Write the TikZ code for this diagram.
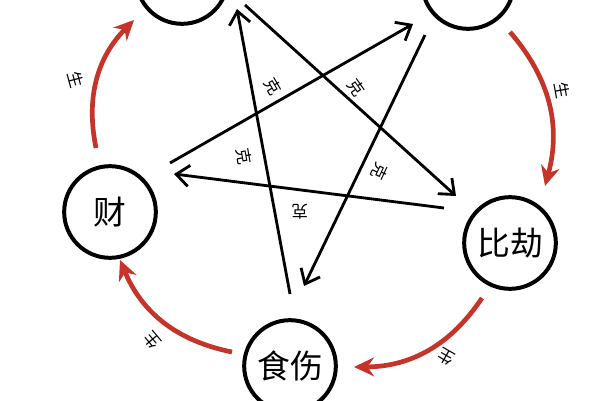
\documentclass[tikz,border=0pt]{standalone}
\usepackage{fontspec}
\setmainfont{Noto Sans CJK SC}
\usetikzlibrary{arrows.meta}
\definecolor{shengred}{RGB}{196,52,40}
\tikzset{
	elem/.style={draw=black,line width=3.4pt,circle,minimum size=2.75cm,inner sep=0pt,font=\fontsize{28}{28}\selectfont},
	ke/.style={draw=black,line width=2.4pt,-{Straight Barb[length=11pt,width=18pt,line width=2.4pt]}},
	sheng/.style={draw=shengred,line width=4pt,bend left=28,-{Stealth[length=17pt,width=16pt]}},
	kelab/.style={font=\fontsize{14}{14}\selectfont},
}
\begin{document}
\begin{tikzpicture}[x=0.03cm,y=-0.03cm]
		\useasboundingbox (0,0) rectangle (600,400);
		% five elements
		\node[elem] (tl) at (182,-22) {};
		\node[elem] (tr) at (468,-17) {};
		\node[elem] (cai) at (110,212) {财};
		\node[elem] (bj) at (510,243) {比劫};
		\node[elem] (ss) at (290,366) {食伤};
		% end points of the arrows
		\coordinate (k1a) at (170,163); \coordinate (k1b) at (413,24);
		\coordinate (k2a) at (245,5);   \coordinate (k2b) at (456,196);
		\coordinate (k3a) at (425,35);  \coordinate (k3b) at (304,286);
		\coordinate (k4a) at (444,208); \coordinate (k4b) at (174,174);
		\coordinate (k5a) at (290,294); \coordinate (k5b) at (237,9);
		\coordinate (s1a) at (96,148);  \coordinate (s1b) at (134,20);
		\coordinate (s2a) at (510,32);  \coordinate (s2b) at (545,186);
		\coordinate (s3a) at (482,298); \coordinate (s3b) at (354,367);
		\coordinate (s4a) at (232,352); \coordinate (s4b) at (120,260);
		% ke
		\draw[ke] (k1a) -- (k1b);
		\draw[ke] (k2a) -- (k2b);
		\draw[ke] (k3a) -- (k3b);
		\draw[ke] (k4a) -- (k4b);
		\draw[ke] (k5a) -- (k5b);
		\node[kelab,rotate=-60] (l1) at (273,86) {克};
		\node[kelab,rotate=-55] (l2) at (356,88) {克};
		\node[kelab,rotate=-115] (l3) at (380,172) {克};
		\node[kelab,rotate=180] (l4) at (300,212) {克};
		\node[kelab,rotate=-80] (l5) at (244,156) {克};
		% sheng
		\draw[sheng] (s1a) to (s1b);
		\draw[sheng] (s2a) to (s2b);
		\draw[sheng] (s3a) to (s3b);
		\draw[sheng] (s4a) to (s4b);
		\node[kelab,rotate=-75] (g1) at (76,80) {生};
		\node[kelab,rotate=-80] (g2) at (562,90) {生};
		\node[kelab,rotate=150] (g3) at (446,357) {生};
		\node[kelab,rotate=130] (g4) at (152,340) {生};
\end{tikzpicture}
\end{document}
